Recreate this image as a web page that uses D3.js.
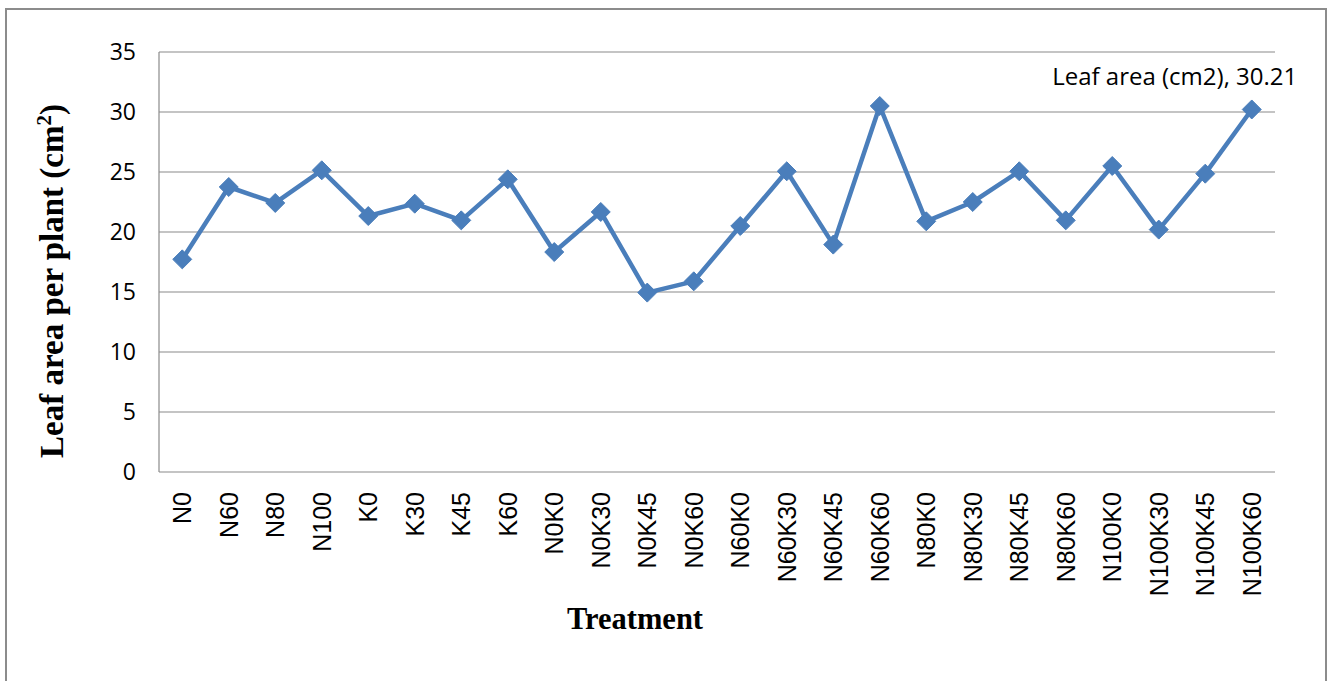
<!DOCTYPE html>
<html>
<head>
<meta charset="utf-8">
<script src="https://cdn.jsdelivr.net/npm/d3@7"></script>
<style>
  html, body { margin: 0; padding: 0; background: #fff; }
  svg { display: block; }
</style>
</head>
<body>
<svg id="chart" width="1328" height="681"></svg>
<script>
const categories = ["N0","N60","N80","N100","K0","K30","K45","K60","N0K0","N0K30","N0K45","N0K60",
  "N60K0","N60K30","N60K45","N60K60","N80K0","N80K30","N80K45","N80K60","N100K0","N100K30","N100K45","N100K60"];
const leafArea = [17.72, 23.75, 22.42, 25.14, 21.33, 22.36, 20.97, 24.39, 18.33, 21.67, 14.95, 15.89,
  20.5, 25.06, 18.95, 30.5, 20.89, 22.5, 25.06, 20.97, 25.5, 20.2, 24.86, 30.21];
const yTicks = [0, 5, 10, 15, 20, 25, 30, 35];
const seriesName = "Leaf area (cm2)";

const svg = d3.select("#chart");
const plot = { left: 159, right: 1275, top: 52, bottom: 472 };

// outer frame
svg.append("rect")
  .attr("x", 6).attr("y", 9).attr("width", 1320).attr("height", 690)
  .attr("fill", "#fff").attr("stroke", "#8c8c8c").attr("stroke-width", 2);

const x = d3.scaleBand().domain(categories).range([plot.left, plot.right]);
const y = d3.scaleLinear().domain([0, 35]).range([plot.bottom, plot.top]);

// gridlines
svg.append("g").selectAll("line").data(yTicks).join("line")
  .attr("x1", plot.left).attr("x2", plot.right)
  .attr("y1", d => y(d)).attr("y2", d => y(d))
  .attr("stroke", "#8a8a8a").attr("stroke-width", 1.2);

// left axis line
svg.append("line")
  .attr("x1", plot.left).attr("x2", plot.left)
  .attr("y1", plot.top).attr("y2", plot.bottom)
  .attr("stroke", "#8a8a8a").attr("stroke-width", 1.2);

// y axis
const yAxis = d3.axisLeft(y).tickValues(yTicks).tickSize(0).tickPadding(0);
const gy = svg.append("g").attr("transform", `translate(${plot.left - 23},0)`).call(yAxis);
gy.select(".domain").remove();
gy.selectAll("text")
  .attr("font-family", "'Open Sans', sans-serif")
  .attr("font-size", 23)
  .attr("fill", "#000");

// x axis
const xAxis = d3.axisBottom(x).tickSize(0).tickPadding(0);
const gx = svg.append("g").attr("transform", `translate(0,${plot.bottom})`).call(xAxis);
gx.select(".domain").remove();
gx.selectAll("text")
  .attr("font-family", "'Liberation Sans', Arial, sans-serif")
  .attr("font-size", 25)
  .attr("fill", "#000")
  .attr("text-anchor", "end")
  .attr("transform", "rotate(-90)")
  .attr("x", -20)
  .attr("y", 0)
  .attr("dy", "0.36em");

// line
const line = d3.line()
  .x((d, i) => x(categories[i]) + x.bandwidth() / 2)
  .y(d => y(d));
svg.append("path").datum(leafArea)
  .attr("d", line)
  .attr("fill", "none")
  .attr("stroke", "#4A7EBB")
  .attr("stroke-width", 4.5)
  .attr("stroke-linejoin", "round");

// markers
const diamond = d3.symbol().type(d3.symbolDiamond2).size(230);
svg.append("g").selectAll("path").data(leafArea).join("path")
  .attr("transform", (d, i) => `translate(${x(categories[i]) + x.bandwidth() / 2},${y(d)})`)
  .attr("d", diamond)
  .attr("fill", "#4A7EBB")
  .attr("stroke", "#4A7EBB")
  .attr("stroke-width", 1);

// data label on last point
const lastI = leafArea.length - 1;
svg.append("text")
  .attr("x", x(categories[lastI]) + x.bandwidth() / 2 - 77)
  .attr("y", y(leafArea[lastI]) - 24)
  .attr("text-anchor", "middle")
  .attr("font-family", "'Open Sans', sans-serif")
  .attr("font-size", 24)
  .attr("fill", "#000")
  .text(`${seriesName}, ${leafArea[lastI]}`);

// axis titles
svg.append("text")
  .attr("x", 635).attr("y", 629)
  .attr("text-anchor", "middle")
  .attr("font-family", "'Liberation Serif', 'Times New Roman', serif")
  .attr("font-weight", "bold")
  .attr("font-size", 30.5)
  .attr("fill", "#000")
  .text("Treatment");

const yt = svg.append("text")
  .attr("transform", "translate(63,281) rotate(-90)")
  .attr("text-anchor", "middle")
  .attr("font-family", "'Liberation Serif', 'Times New Roman', serif")
  .attr("font-weight", "bold")
  .attr("font-size", 33)
  .attr("fill", "#000");
yt.append("tspan").text("Leaf area per plant (cm");
yt.append("tspan").attr("baseline-shift", "super").attr("font-size", 21).text("2");
yt.append("tspan").text(")");
</script>
</body>
</html>
